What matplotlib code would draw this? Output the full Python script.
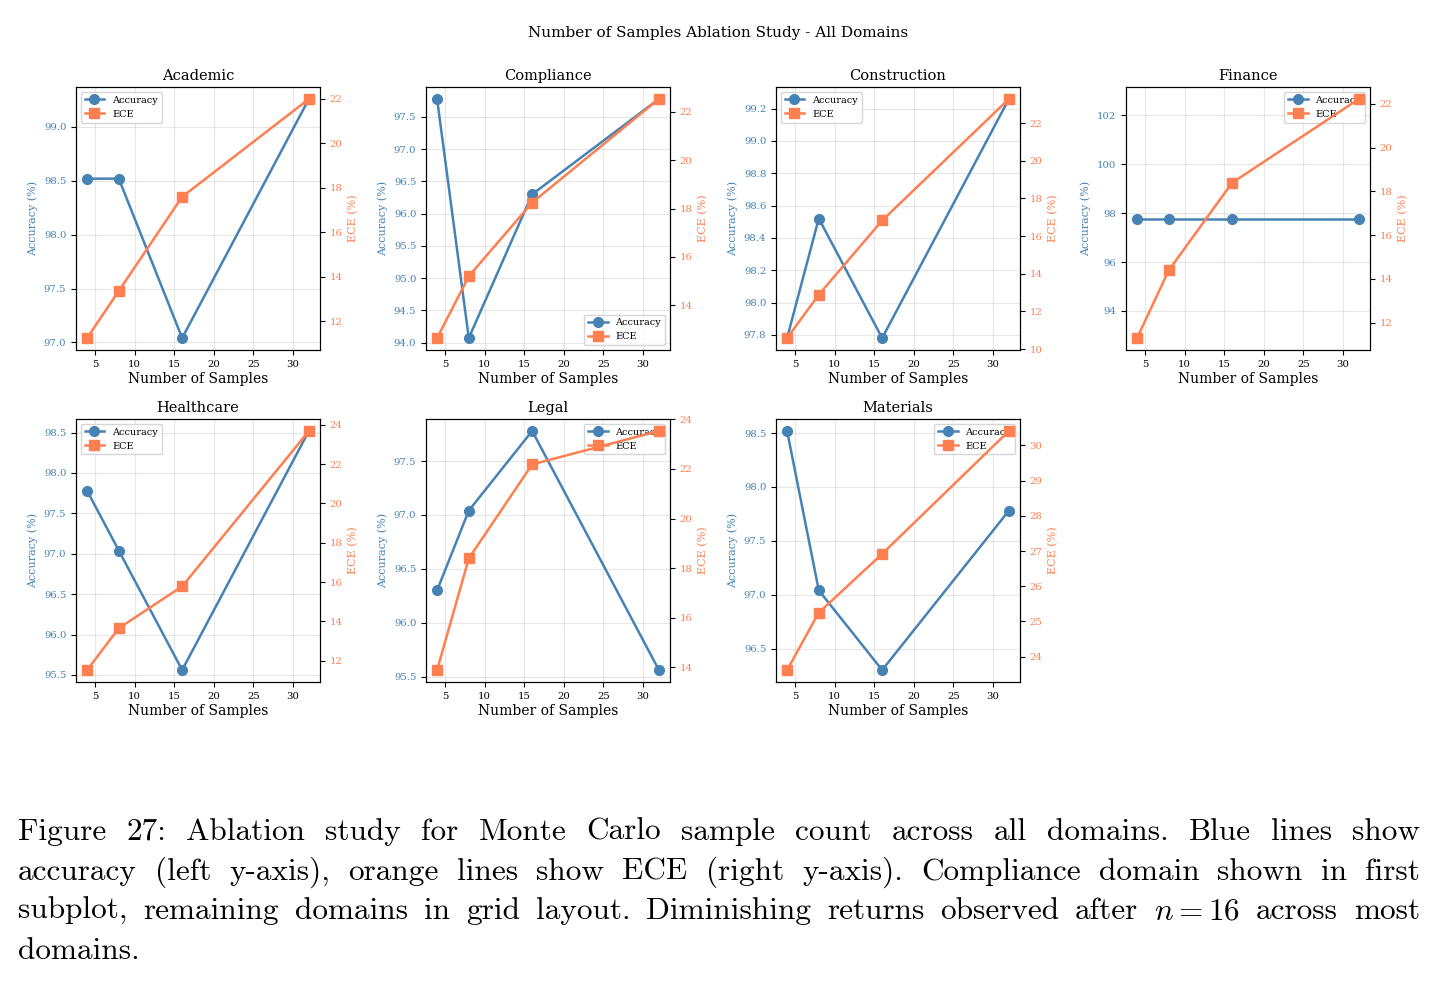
import re

import matplotlib
matplotlib.use("Agg")
import matplotlib.pyplot as plt

plt.rcParams['font.family'] = 'serif'
plt.rcParams['mathtext.fontset'] = 'cm'

samples = [4, 8, 16, 32]
domains = ["Academic", "Compliance", "Construction", "Finance",
           "Healthcare", "Legal", "Materials"]

acc_academic = [98.52, 98.52, 97.04, 99.26]
acc_compliance = [97.78, 94.07, 96.30, 97.78]
acc_construction = [97.78, 98.52, 97.78, 99.26]
acc_finance = [97.78, 97.78, 97.78, 97.78]
acc_healthcare = [97.78, 97.04, 95.56, 98.52]
acc_legal = [96.30, 97.04, 97.78, 95.56]
acc_materials = [98.52, 97.04, 96.30, 97.78]

ece_academic = [11.25, 13.37, 17.6, 22.0]
ece_compliance = [12.64, 15.2, 18.25, 22.54]
ece_construction = [10.59, 12.89, 16.83, 23.28]
ece_finance = [11.3, 14.4, 18.4, 22.23]
ece_healthcare = [11.52, 13.65, 15.78, 23.69]
ece_legal = [13.89, 18.39, 22.18, 23.53]
ece_materials = [23.62, 25.25, 26.92, 30.41]

accuracy = [acc_academic, acc_compliance, acc_construction, acc_finance,
            acc_healthcare, acc_legal, acc_materials]
ece = [ece_academic, ece_compliance, ece_construction, ece_finance,
       ece_healthcare, ece_legal, ece_materials]
legend_loc = ["upper left", "lower right", "upper left", "upper right",
              "upper left", "upper right", "upper right"]

caption = [
    "Figure 27:  Ablation study for Monte Carlo sample count across all domains.  Blue lines show",
    "accuracy (left y-axis), orange lines show ECE (right y-axis).  Compliance domain shown in first",
    "subplot, remaining domains in grid layout. Diminishing returns observed after $n = 16$ across most",
    "domains.",
]

W, H = 1436, 983
fig = plt.figure(figsize=(W / 100, H / 100), dpi=100)

blue = "#4682B4"
orange = "#FF7F50"

col_left = [76, 426, 776, 1126]
row_top = [87, 419]
aw, ah = 244, 263

for i, name in enumerate(domains):
    r, c = divmod(i, 4)
    x0 = col_left[c] / W
    y0 = 1 - (row_top[r] + ah) / H
    ax1 = fig.add_axes([x0, y0, aw / W, ah / H])
    ax2 = ax1.twinx()

    l1, = ax1.plot(samples, accuracy[i], color=blue, marker='o',
                   markersize=7, linewidth=1.8, label='Accuracy')
    l2, = ax2.plot(samples, ece[i], color=orange, marker='s',
                   markersize=7, linewidth=1.8, label='ECE')

    ax1.set_title(name, fontsize=10.5, pad=5)
    ax1.set_xlabel("Number of Samples", fontsize=10, labelpad=2.5)
    ax1.set_ylabel("Accuracy (%)", color=blue, fontsize=8)
    ax2.set_ylabel("ECE (%)", color=orange, fontsize=8)
    ax1.tick_params(axis='y', labelcolor=blue, labelsize=7.3)
    ax2.tick_params(axis='y', labelcolor=orange, labelsize=7.3)
    ax1.tick_params(axis='x', labelsize=7.3)
    ax1.grid(True, alpha=0.3)
    ax1.legend([l1, l2], ['Accuracy', 'ECE'], loc=legend_loc[i], fontsize=7)

fig.text(0.5, 1 - 33 / H, "Number of Samples Ablation Study - All Domains",
         ha='center', va='center', fontsize=11)

# caption, justified word by word
fig.canvas.draw()
rend = fig.canvas.get_renderer()
left, right = 18, 1420
baselines = [840, 880, 919, 959]
for k, (line, yb) in enumerate(zip(caption, baselines)):
    words = re.findall(r'\$[^$]*\$|\S+', line)
    texts = [fig.text(0, 1 - yb / H, w, family='cmr10', fontsize=22.5,
                      va='baseline', ha='left') for w in words]
    widths = [t.get_window_extent(rend).width for t in texts]
    if k == len(caption) - 1 or len(words) == 1:
        gap = 8
    else:
        gap = (right - left - sum(widths)) / (len(words) - 1)
    x = left
    for t, w in zip(texts, widths):
        t.set_x(x / W)
        x += w + gap

fig.savefig("out.png", dpi=100)
